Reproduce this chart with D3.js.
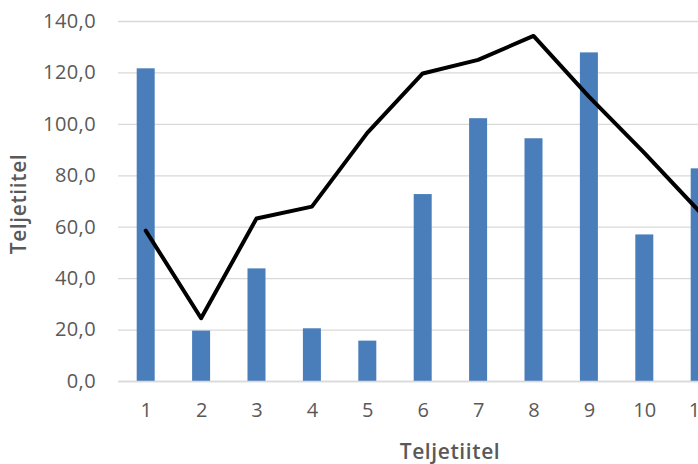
<!DOCTYPE html>
<html>
<head>
<meta charset="utf-8">
<script src="https://cdn.jsdelivr.net/npm/d3@7"></script>
<style>
  html, body { margin: 0; padding: 0; background: #fff; overflow: hidden; }
  svg { display: block; }
  text { font-family: "Open Sans", "Liberation Sans", sans-serif; fill: #595959; }
</style>
</head>
<body>
<svg id="chart" width="698" height="464"></svg>
<script>
const categories = ["1","2","3","4","5","6","7","8","9","10","11"];
const barValues  = [121.6, 19.6, 43.8, 20.5, 15.7, 72.7, 102.2, 94.4, 127.8, 57.0, 82.7];
const lineValues = [58.5, 24.4, 63.2, 67.8, 96.5, 119.6, 124.9, 134.2, 110.6, 88.7, 65.8];
const yTicks = [0, 20, 40, 60, 80, 100, 120, 140];
const xTitle = "Teljetiitel";
const yTitle = "Teljetiitel";

(function () {
const svg = d3.select("#chart");
const plotLeft = 118, plotTop = 21, plotBottom = 381;
const step = 55.4;
const plotRight = plotLeft + step * categories.length;

const x = d3.scalePoint().domain(categories).range([plotLeft, plotRight]).padding(0.5);
const y = d3.scaleLinear().domain([0, 140]).range([plotBottom, plotTop]);
const locale = d3.formatLocale({decimal: ",", thousands: " ", grouping: [3], currency: ["", "€"]});
const fmt = locale.format(".1f");

// gridlines + y labels
const gy = svg.append("g").attr("transform", `translate(${plotLeft},0)`)
  .call(d3.axisLeft(y).tickValues(yTicks).tickSize(-(plotRight - plotLeft)).tickPadding(22).tickFormat(fmt));
gy.select(".domain").remove();
gy.selectAll(".tick line").attr("stroke", "#d9d9d9").attr("stroke-width", 1.3);
gy.selectAll(".tick text").attr("font-size", 20).attr("letter-spacing", 0.4)
  .attr("font-family", "'Open Sans', sans-serif").attr("fill", "#595959");

// bars
const bw = step * 0.325;
svg.append("g").selectAll("rect").data(categories).join("rect")
  .attr("x", (d) => x(d) - bw / 2)
  .attr("width", bw)
  .attr("y", (d, i) => y(barValues[i]))
  .attr("height", (d, i) => plotBottom - y(barValues[i]))
  .attr("fill", "#4a7ebb");

// x axis
const gx = svg.append("g").attr("transform", `translate(0,${plotBottom})`)
  .call(d3.axisBottom(x).tickSize(0).tickPadding(22));
gx.select(".domain").attr("stroke", "#d9d9d9").attr("stroke-width", 1.3);
gx.selectAll(".tick text").attr("font-size", 20)
  .attr("font-family", "'Open Sans', sans-serif").attr("fill", "#595959");

// line
const line = d3.line().x((d, i) => x(categories[i])).y((d) => y(d));
svg.append("path").datum(lineValues)
  .attr("d", line)
  .attr("fill", "none")
  .attr("stroke", "#000")
  .attr("stroke-width", 4)
  .attr("stroke-linejoin", "round")
  .attr("stroke-linecap", "round");

// axis titles
svg.append("text").attr("x", 450).attr("y", 459).attr("text-anchor", "middle")
  .attr("font-size", 21).attr("font-weight", 600).attr("letter-spacing", 0.6).text(xTitle);
svg.append("text").attr("transform", "translate(26,204) rotate(-90)").attr("text-anchor", "middle")
  .attr("font-size", 21).attr("font-weight", 600).attr("letter-spacing", 0.6).text(yTitle);
})();
</script>
</body>
</html>
